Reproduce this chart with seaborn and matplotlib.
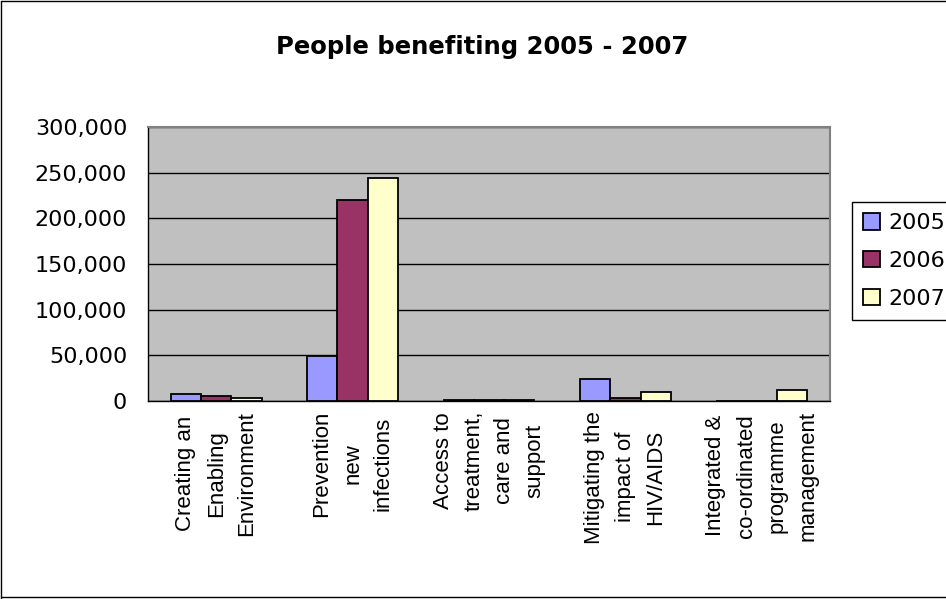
import matplotlib
matplotlib.use("Agg")
import matplotlib.pyplot as plt
from matplotlib.lines import Line2D
from matplotlib.ticker import FuncFormatter, FixedLocator
import numpy as np
import pandas as pd
import seaborn as sns

# Programme areas and people reached per year
categories = [
    "Creating an\nEnabling\nEnvironment",
    "Prevention\nnew\ninfections",
    "Access to\ntreatment,\ncare and\nsupport",
    "Mitigating the\nimpact of\nHIV/AIDS",
    "Integrated &\nco-ordinated\nprogramme\nmanagement",
]
years = ["2005", "2006", "2007"]
people_2005 = [8000, 49000, 1000, 24500, 0]
people_2006 = [5500, 220000, 1000, 3300, 0]
people_2007 = [3300, 244000, 1000, 10300, 12000]
y_ticks = [0, 50000, 100000, 150000, 200000, 250000, 300000]

colors = {"2005": "#9999FF", "2006": "#993366", "2007": "#FFFFCC"}

df = pd.DataFrame({
    "area": categories * 3,
    "year": [y for y in years for _ in categories],
    "people": people_2005 + people_2006 + people_2007,
})

sns.set_style("white")
plt.rcParams["font.family"] = ["DejaVu Sans"]
plt.rcParams["text.color"] = "black"
plt.rcParams["xtick.labelcolor"] = "black"
plt.rcParams["ytick.labelcolor"] = "black"

fig = plt.figure(figsize=(9.46, 5.99), dpi=100)
ax = fig.add_axes([148 / 946, 1 - 401 / 599, (830 - 148) / 946, (401 - 127) / 599])
ax.set_facecolor("#C0C0C0")

sns.barplot(
    data=df, x="area", y="people", hue="year", order=categories,
    hue_order=years, palette=colors, width=0.667, gap=0,
    edgecolor="black", linewidth=1.3, saturation=1, errorbar=None,
    legend=False, ax=ax, zorder=3,
)

ax.set_xlim(-0.5, len(categories) - 0.5)
ax.set_ylim(0, 300000)
ax.set_yticks(y_ticks)
ax.yaxis.set_major_formatter(FuncFormatter(lambda v, p: f"{int(v):,}"))
ax.yaxis.grid(True, color="black", linewidth=1, zorder=1)
ax.set_axisbelow(True)

# category labels at centres, tick marks between categories
ax.set_xticks(range(len(categories)))
ax.set_xticklabels(categories, rotation=90, ha="center", va="top",
                   multialignment="center", fontsize=16, linespacing=1.6,
                   family=["Liberation Sans", "DejaVu Sans"], color="black")
ax.xaxis.set_minor_locator(FixedLocator(np.arange(-0.5, len(categories), 1.0)))
ax.tick_params(axis="x", which="major", length=0, pad=7)
ax.tick_params(axis="x", which="minor", length=5, width=1, color="black", direction="out")
ax.tick_params(axis="y", length=5, width=1, color="black", labelcolor="black",
               direction="out", labelsize=16, pad=10)
ax.set_xlabel("")
ax.set_ylabel("")

for side in ("left", "bottom"):
    ax.spines[side].set_color("black")
    ax.spines[side].set_linewidth(1)
for side in ("top", "right"):
    ax.spines[side].set_color("#808080")
    ax.spines[side].set_linewidth(1.5)

fig.text(482 / 946, 1 - 54 / 599, "People benefiting 2005 - 2007",
         ha="center", va="baseline", fontsize=17.5, fontweight="bold", color="black")

handles = [plt.Rectangle((0, 0), 1, 1, facecolor=colors[y], edgecolor="black",
                         linewidth=1.3) for y in years]
leg = fig.legend(handles, years, loc="upper left",
                 bbox_to_anchor=(852 / 946, 1 - 202 / 599),
                 fontsize=16, frameon=True, fancybox=False, framealpha=1,
                 edgecolor="black", handlelength=0.75, handleheight=0.75,
                 handletextpad=0.4, labelspacing=0.8, borderpad=0.5,
                 borderaxespad=0, labelcolor="black")
leg.get_frame().set_linewidth(1)

# outer chart border
for xs, ys in (([0.001, 0.001], [0.002, 0.998]),
               ([0.001, 1.0], [0.998, 0.998]),
               ([0.001, 1.0], [0.003, 0.003])):
    fig.add_artist(Line2D(xs, ys, transform=fig.transFigure, color="black", linewidth=1))

fig.savefig("out.png", dpi=100)
